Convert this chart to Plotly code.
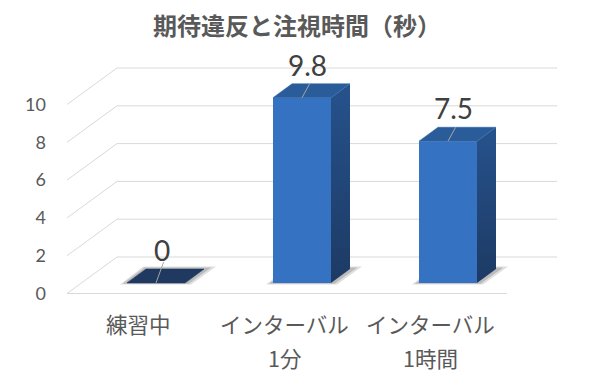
import plotly.graph_objects as go

# ---- data ----
title_text = "期待違反と注視時間（秒）"
categories = ["練習中", "インターバル\n1分", "インターバル\n1時間"]
values = [0, 9.8, 7.5]
y_ticks = [0, 2, 4, 6, 8, 10]

# ---- geometry / style constants (pseudo-3D, Excel style) ----
OFF = 8           # page body margin compensation
W, H = 591 - OFF, 380 - OFF
PX_X = 146.0      # px per x unit
PX_Y = 18.9       # px per y unit
FDX = 50 / PX_X   # floor depth offset in x
FDY = 36.5 / PX_Y # floor depth offset in y
DF = 0.29         # bar front depth fraction
DB = 0.38         # bar depth fraction
BW = 58 / PX_X    # bar width
BDX = DB * FDX
BDY = DB * FDY
FB = DF * FDY     # base of bar front face
XR = [(67 - 156) / PX_X, (560 - 156) / PX_X]
YR = [(293.5 - 300) / PX_Y, (293.5 - 40) / PX_Y]
FLOOR_FRONT_LEN = (507 - 67) / PX_X
GRID_RIGHT = (557 - 156) / PX_X

FONT_JP = "Noto Sans CJK JP"
FONT_NUM = "Lato, Noto Sans CJK JP"
GREY = "#595959"
GRID = "#d9d9d9"

fig = go.Figure()

# ---- base layer (x, y): gridlines and shadows ----
for v in y_ticks:
    fig.add_trace(go.Scatter(
        x=[XR[0], XR[0] + FDX, GRID_RIGHT],
        y=[v, v + FDY, v + FDY],
        mode="lines", line=dict(color=GRID, width=1),
        hoverinfo="skip", showlegend=False))
fig.add_trace(go.Scatter(
    x=[XR[0], XR[0] + FLOOR_FRONT_LEN], y=[0, 0],
    mode="lines", line=dict(color=GRID, width=1),
    hoverinfo="skip", showlegend=False))

sx_l, sx_r, sy_f, sy_b = 7 / PX_X, 12 / PX_X, 1.5 / PX_Y, 2.5 / PX_Y
for i, v in enumerate(values):
    xl, xr = i - BW / 2, i + BW / 2
    for k, alpha in [(1.0, 0.18), (0.6, 0.25)]:
        fig.add_trace(go.Scatter(
            x=[xl - k * sx_l, xr + k * sx_r * 0.5, xr + BDX + k * sx_r,
               xl + BDX - k * sx_l * 0.4, xl - k * sx_l],
            y=[FB - k * sy_f, FB - k * sy_f, FB + BDY + k * sy_b,
               FB + BDY + k * sy_b, FB - k * sy_f],
            mode="lines", fill="toself", fillcolor=f"rgba(80,80,80,{alpha})",
            line=dict(width=0), hoverinfo="skip", showlegend=False))

# ---- overlay layer (x2, y2): the bars ----
fig.add_trace(go.Bar(
    x=list(range(len(values))), y=values, base=[FB] * len(values),
    width=BW, marker=dict(color="#3672c2", line=dict(width=0)),
    xaxis="x2", yaxis="y2", hoverinfo="skip", showlegend=False))

for i, v in enumerate(values):
    xl, xr = i - BW / 2, i + BW / 2
    top = FB + v
    if v > 0:
        fig.add_trace(go.Scatter(
            x=[xr, xr + BDX, xr + BDX, xr, xr],
            y=[FB, FB + BDY, top + BDY, top, FB],
            mode="lines", fill="toself",
            fillgradient=dict(type="vertical",
                              colorscale=[[0, "#1d3a64"], [1, "#26528c"]]),
            line=dict(width=0), xaxis="x2", yaxis="y2",
            hoverinfo="skip", showlegend=False))
    top_col = "#2b5c9a" if v > 0 else "#1f3960"
    fig.add_trace(go.Scatter(
        x=[xl, xr, xr + BDX, xl + BDX, xl],
        y=[top, top, top + BDY, top + BDY, top],
        mode="lines", fill="toself", fillcolor=top_col,
        line=dict(width=0.6, color="#2f66ad" if v > 0 else "#1f3960"),
        xaxis="x2", yaxis="y2", hoverinfo="skip", showlegend=False))
    ext = 1.0 if v > 0 else 1.5
    fig.add_trace(go.Scatter(
        x=[i, i + 0.4 * BDX], y=[top, top + ext * BDY],
        mode="lines", line=dict(color="#a6a6a6", width=1),
        xaxis="x2", yaxis="y2", hoverinfo="skip", showlegend=False))

annotations = []
# title as a paper-anchored annotation
annotations.append(dict(
    x=(297 - 67) / (560 - 67), y=(300 - 24) / 260, xref="paper", yref="paper",
    text=f"<b>{title_text}</b>", showarrow=False, xanchor="center", yanchor="middle",
    font=dict(family=FONT_JP, size=24, color=GREY)))
for i, v in enumerate(values):
    annotations.append(dict(
        x=i + 0.3 * BDX, y=FB + v + BDY, xref="x", yref="y",
        text=f"{v:g}", showarrow=False, yanchor="bottom", xanchor="center",
        font=dict(family=FONT_NUM, size=28, color="#404040")))
for i, c in enumerate(categories):
    for j, line in enumerate(c.split("\n")):
        annotations.append(dict(
            x=i - 0.12, y=(300 - (323 + 34 * j)) / 260, xref="x", yref="paper",
            text=line, showarrow=False, yanchor="middle", xanchor="center",
            font=dict(family=FONT_JP, size=21.5, color=GREY)))

axis_common = dict(showgrid=False, zeroline=False, showline=False, fixedrange=True)
fig.update_layout(
    width=W, height=H,
    margin=dict(l=67 - OFF, r=31, t=40 - OFF, b=80),
    paper_bgcolor="white", plot_bgcolor="white",
    xaxis=dict(range=XR, showticklabels=False, **axis_common),
    yaxis=dict(range=YR, tickvals=y_ticks, ticktext=[str(t) for t in y_ticks],
               ticks="", ticklabelstandoff=20,
               tickfont=dict(family=FONT_NUM, size=18, color=GREY), **axis_common),
    xaxis2=dict(range=XR, overlaying="x", showticklabels=False, **axis_common),
    yaxis2=dict(range=YR, overlaying="y", showticklabels=False, **axis_common),
    annotations=annotations,
    barmode="overlay",
)

fig.write_html("out.html")
